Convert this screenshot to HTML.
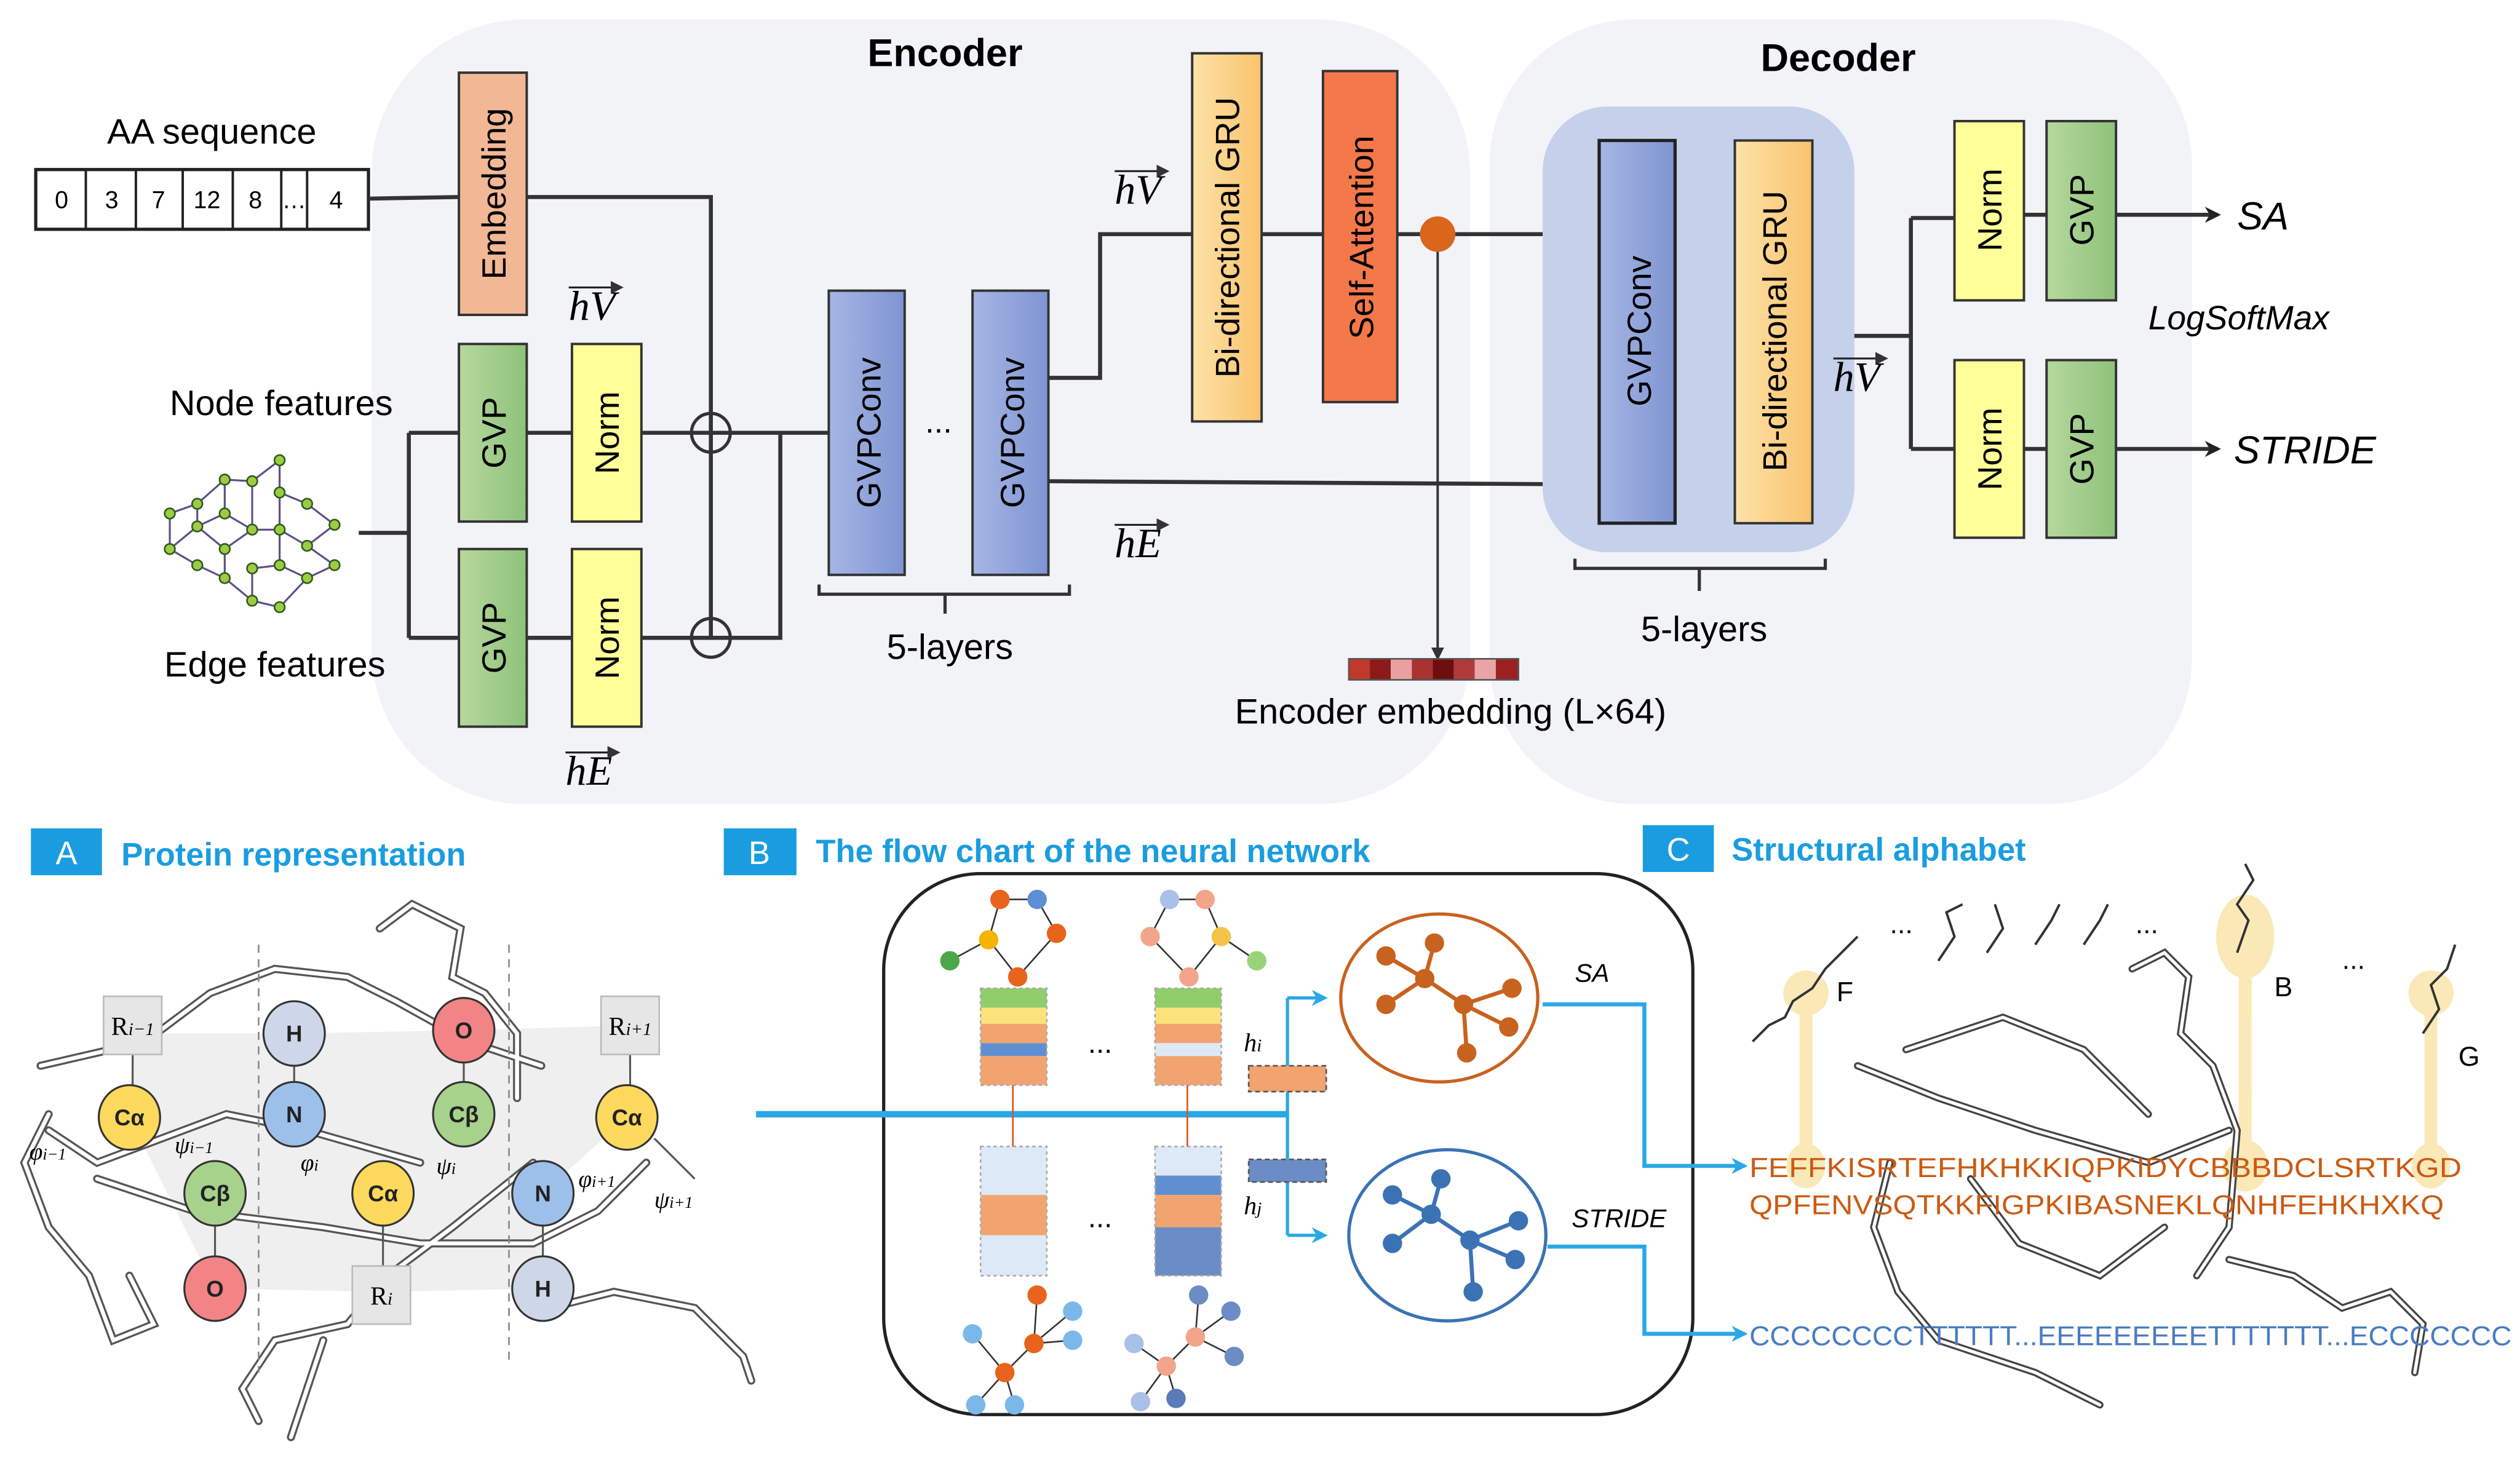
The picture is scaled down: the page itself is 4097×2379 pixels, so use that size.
<!DOCTYPE html>
<html><head><meta charset="utf-8"><style>
html,body{margin:0;padding:0;background:#fff;}
svg{display:block;font-family:"Liberation Sans",sans-serif;}
</style></head><body>
<svg width="4097" height="2379" viewBox="0 0 1560 906" xmlns="http://www.w3.org/2000/svg">
<defs>
<linearGradient id="gb" x1="0" x2="1"><stop offset="0" stop-color="#a6b6e4"/><stop offset="1" stop-color="#7f94d2"/></linearGradient>
<linearGradient id="go" x1="0" x2="1"><stop offset="0" stop-color="#fde2a8"/><stop offset="1" stop-color="#f9c36e"/></linearGradient>
<linearGradient id="gg" x1="0" x2="1"><stop offset="0" stop-color="#b6d89e"/><stop offset="1" stop-color="#8ec27a"/></linearGradient>
<marker id="ar" markerWidth="10" markerHeight="10" refX="8" refY="5" orient="auto" markerUnits="userSpaceOnUse"><path d="M0,0 L10,5 L0,10 L3,5z" fill="#222"/></marker>
<marker id="ab" markerWidth="10" markerHeight="10" refX="8" refY="5" orient="auto" markerUnits="userSpaceOnUse"><path d="M0,0 L10,5 L0,10 L3,5z" fill="#2aa8e6"/></marker>
<marker id="as" markerWidth="8" markerHeight="8" refX="6" refY="4" orient="auto" markerUnits="userSpaceOnUse"><path d="M0,0 L8,4 L0,8z" fill="#333"/></marker>
</defs>

<!-- panels -->
<rect x="230" y="12" width="680" height="486" rx="95" fill="#f2f3f7"/>
<rect x="922" y="12" width="435" height="486" rx="90" fill="#f2f3f7"/>
<text x="585" y="41" font-size="24" font-weight="bold" text-anchor="middle">Encoder</text>
<text x="1138" y="44" font-size="24" font-weight="bold" text-anchor="middle">Decoder</text>

<!-- AA sequence -->
<text x="131" y="89" font-size="22" text-anchor="middle">AA sequence</text>
<rect x="22" y="105" width="206" height="37" fill="#fff" stroke="#222" stroke-width="2"/>
<g stroke="#222" stroke-width="1.5"><line x1="53" y1="105" x2="53" y2="142"/><line x1="84" y1="105" x2="84" y2="142"/><line x1="113" y1="105" x2="113" y2="142"/><line x1="144" y1="105" x2="144" y2="142"/><line x1="174" y1="105" x2="174" y2="142"/><line x1="190" y1="105" x2="190" y2="142"/></g>
<g font-size="15" text-anchor="middle"><text x="38" y="129">0</text><text x="69" y="129">3</text><text x="98" y="129">7</text><text x="128" y="129">12</text><text x="158" y="129">8</text><text x="182" y="129">…</text><text x="208" y="129">4</text></g>

<!-- lines -->
<g stroke="#333" stroke-width="2.5" fill="none">
<path d="M228,123 L284,122"/>
<path d="M326,122 L440,122 L440,395"/>
<path d="M222,330 L253,330 M253,268 L253,395 M253,268 L284,268 M253,395 L284,395"/>
<path d="M326,268 L354,268 M326,395 L354,395 M397,268 L513,268 M397,395 L483,395 L483,268"/>
<path d="M649,234 L681,234 L681,145 L738,145"/>
<path d="M649,298 L990,300"/>
<path d="M781,145 L819,145 M865,145 L990,145"/>
<path d="M1122,208 L1183,208 M1183,135 L1183,278 M1183,135 L1210,135 M1183,278 L1210,278"/>
<path d="M1253,133 L1267,133 M1253,278 L1267,278"/>
</g>
<circle cx="440" cy="268" r="12" fill="none" stroke="#333" stroke-width="2"/>
<circle cx="440" cy="395" r="12" fill="none" stroke="#333" stroke-width="2"/>
<g stroke="#333" stroke-width="2.5"><line x1="1310" y1="133" x2="1373" y2="133" marker-end="url(#ar)"/><line x1="1310" y1="278" x2="1373" y2="278" marker-end="url(#ar)"/>
<line x1="890" y1="150" x2="890" y2="407" stroke-width="1.5" marker-end="url(#as)"/></g>

<!-- encoder boxes -->
<rect x="284" y="45" width="42" height="150" fill="#f2b896" stroke="#333" stroke-width="1.5"/>
<text transform="translate(313,120) rotate(-90)" font-size="21" text-anchor="middle">Embedding</text>
<rect x="284" y="213" width="42" height="110" fill="url(#gg)" stroke="#333" stroke-width="1.5"/>
<text transform="translate(313,268) rotate(-90)" font-size="21" text-anchor="middle">GVP</text>
<rect x="354" y="213" width="43" height="110" fill="#ffff99" stroke="#333" stroke-width="1.5"/>
<text transform="translate(383,268) rotate(-90)" font-size="21" text-anchor="middle">Norm</text>
<rect x="284" y="340" width="42" height="110" fill="url(#gg)" stroke="#333" stroke-width="1.5"/>
<text transform="translate(313,395) rotate(-90)" font-size="21" text-anchor="middle">GVP</text>
<rect x="354" y="340" width="43" height="110" fill="#ffff99" stroke="#333" stroke-width="1.5"/>
<text transform="translate(383,395) rotate(-90)" font-size="21" text-anchor="middle">Norm</text>
<rect x="513" y="180" width="47" height="176" fill="url(#gb)" stroke="#333" stroke-width="1.5"/>
<text transform="translate(545,268) rotate(-90)" font-size="21" text-anchor="middle">GVPConv</text>
<rect x="602" y="180" width="47" height="176" fill="url(#gb)" stroke="#333" stroke-width="1.5"/>
<text transform="translate(634,268) rotate(-90)" font-size="21" text-anchor="middle">GVPConv</text>
<text x="581" y="268" font-size="20" text-anchor="middle">...</text>
<path d="M507,362 L507,368 L662,368 L662,362 M585,368 L585,380" stroke="#333" stroke-width="2" fill="none"/>
<text x="588" y="408" font-size="22" text-anchor="middle">5-layers</text>
<rect x="738" y="33" width="43" height="228" fill="url(#go)" stroke="#333" stroke-width="1.5"/>
<text transform="translate(767,147) rotate(-90)" font-size="21" text-anchor="middle">Bi-directional GRU</text>
<rect x="819" y="44" width="46" height="205" fill="#f4784a" stroke="#333" stroke-width="1.5"/>
<text transform="translate(850,147) rotate(-90)" font-size="21" text-anchor="middle">Self-Attention</text>
<ellipse cx="890" cy="145" rx="11" ry="11" fill="#d9661b"/>
<g>
<rect x="835" y="408" width="13" height="13" fill="#c0392b"/><rect x="848" y="408" width="13" height="13" fill="#8b1a1a"/><rect x="861" y="408" width="13" height="13" fill="#e8a0a0"/><rect x="874" y="408" width="13" height="13" fill="#a93232"/><rect x="887" y="408" width="13" height="13" fill="#6e0f0f"/><rect x="900" y="408" width="13" height="13" fill="#b03a3a"/><rect x="913" y="408" width="13" height="13" fill="#e9a5a5"/><rect x="926" y="408" width="14" height="13" fill="#9c2020"/>
<rect x="835" y="408" width="105" height="13" fill="none" stroke="#555" stroke-width="1"/></g>
<text x="898" y="448" font-size="22" text-anchor="middle">Encoder embedding (L×64)</text>

<text x="174" y="257" font-size="22" text-anchor="middle">Node features</text>
<text x="170" y="419" font-size="22" text-anchor="middle">Edge features</text>

<!-- graph -->
<g stroke="#5a4f8a" stroke-width="1.2" fill="none">
<path d="M173,285 L156,298 L139,297 L122,312 L105,318 L105,340 L122,350 L139,358 L156,372 L173,376 M156,298 L156,328 L139,340 L122,326 L122,312 M173,285 L173,305 L190,312 L207,325 L190,338 L173,328 L156,328 M173,305 L173,328 L173,350 L190,358 L207,350 L190,338 M139,297 L139,318 L156,328 M105,340 L122,326 M139,340 L139,358 M156,352 L173,350 M156,352 L156,372 M173,376 L190,358 M139,318 L122,326"/>
</g>
<g fill="#9ccc45" stroke="#2f5b1a" stroke-width="1">
<circle cx="173" cy="285" r="3.2"/><circle cx="156" cy="298" r="3.2"/><circle cx="139" cy="297" r="3.2"/><circle cx="122" cy="312" r="3.2"/><circle cx="105" cy="318" r="3.2"/><circle cx="105" cy="340" r="3.2"/><circle cx="122" cy="350" r="3.2"/><circle cx="139" cy="358" r="3.2"/><circle cx="156" cy="372" r="3.2"/><circle cx="173" cy="376" r="3.2"/><circle cx="156" cy="328" r="3.2"/><circle cx="139" cy="340" r="3.2"/><circle cx="122" cy="326" r="3.2"/><circle cx="173" cy="305" r="3.2"/><circle cx="190" cy="312" r="3.2"/><circle cx="207" cy="325" r="3.2"/><circle cx="190" cy="338" r="3.2"/><circle cx="173" cy="328" r="3.2"/><circle cx="173" cy="350" r="3.2"/><circle cx="190" cy="358" r="3.2"/><circle cx="207" cy="350" r="3.2"/><circle cx="139" cy="318" r="3.2"/><circle cx="156" cy="352" r="3.2"/>
</g>

<!-- decoder -->
<rect x="955" y="66" width="193" height="276" rx="40" fill="#c5d1ea"/>
<rect x="990" y="87" width="47" height="237" fill="url(#gb)" stroke="#222" stroke-width="2"/>
<text transform="translate(1022,205) rotate(-90)" font-size="21" text-anchor="middle">GVPConv</text>
<rect x="1074" y="87" width="48" height="237" fill="url(#go)" stroke="#333" stroke-width="1.5"/>
<text transform="translate(1106,205) rotate(-90)" font-size="21" text-anchor="middle">Bi-directional GRU</text>
<path d="M975,346 L975,352 L1130,352 L1130,346 M1052,352 L1052,366" stroke="#333" stroke-width="2" fill="none"/>
<text x="1055" y="397" font-size="22" text-anchor="middle">5-layers</text>
<rect x="1210" y="75" width="43" height="111" fill="#ffff99" stroke="#333" stroke-width="1.5"/>
<text transform="translate(1239,130) rotate(-90)" font-size="21" text-anchor="middle">Norm</text>
<rect x="1267" y="75" width="43" height="111" fill="url(#gg)" stroke="#333" stroke-width="1.5"/>
<text transform="translate(1296,130) rotate(-90)" font-size="21" text-anchor="middle">GVP</text>
<rect x="1210" y="223" width="43" height="110" fill="#ffff99" stroke="#333" stroke-width="1.5"/>
<text transform="translate(1239,278) rotate(-90)" font-size="21" text-anchor="middle">Norm</text>
<rect x="1267" y="223" width="43" height="110" fill="url(#gg)" stroke="#333" stroke-width="1.5"/>
<text transform="translate(1296,278) rotate(-90)" font-size="21" text-anchor="middle">GVP</text>
<g font-style="italic"><text x="1385" y="142" font-size="24">SA</text><text x="1383" y="287" font-size="24">STRIDE</text><text x="1330" y="204" font-size="21">LogSoftMax</text></g>

<!-- labels -->
<g font-family="Liberation Serif,serif" font-style="italic" font-size="26">
<text x="352" y="198">hV</text><path d="M352,178 L384,178" stroke="#222" stroke-width="1.2" marker-end="url(#as)"/>
<text x="350" y="486">hE</text><path d="M350,466 L382,466" stroke="#222" stroke-width="1.2" marker-end="url(#as)"/>
<text x="690" y="126">hV</text><path d="M690,106 L722,106" stroke="#222" stroke-width="1.2" marker-end="url(#as)"/>
<text x="690" y="345">hE</text><path d="M690,325 L722,325" stroke="#222" stroke-width="1.2" marker-end="url(#as)"/>
<text x="1135" y="242">hV</text><path d="M1135,222 L1167,222" stroke="#222" stroke-width="1.2" marker-end="url(#as)"/>
</g>

<!-- section headers -->
<rect x="19" y="513" width="44" height="29" fill="#1a9de0"/><text x="41" y="535" font-size="20" fill="#fff" text-anchor="middle">A</text>
<text x="75" y="536" font-size="20" font-weight="bold" fill="#1a9de0">Protein representation</text>
<rect x="448" y="513" width="45" height="29" fill="#1a9de0"/><text x="470" y="535" font-size="20" fill="#fff" text-anchor="middle">B</text>
<text x="505" y="534" font-size="20" font-weight="bold" fill="#1a9de0">The flow chart of the neural network</text>
<rect x="1017" y="511" width="44" height="29" fill="#1a9de0"/><text x="1039" y="533" font-size="20" fill="#fff" text-anchor="middle">C</text>
<text x="1072" y="533" font-size="20" font-weight="bold" fill="#1a9de0">Structural alphabet</text>

<!-- Panel A -->
<polygon points="82,640 182,640 287,638 390,635 388,692 336,739 336,798 237,800 133,798 80,692" fill="#e8e8e8" opacity="0.7"/>
<g fill="none" stroke="#555" stroke-width="5" stroke-linecap="round">
<path d="M235,575 L255,560 L285,575 L280,605 L300,615 L320,640 L320,680"/>
<path d="M25,660 L90,645 L130,615 L170,600 L215,605 L245,620 L290,645 L335,660"/>
<path d="M30,690 L15,720 L30,760 L55,790 L70,830 L95,820 L80,790"/>
<path d="M60,730 L120,750 L200,760 L260,770 L330,770 L370,750 L400,720"/>
<path d="M340,810 L380,800 L430,810 L460,840 L465,855"/>
<path d="M160,880 L150,860 L170,830 L215,820 L240,790 L280,760 L330,720"/>
<path d="M180,890 L190,860 L200,830"/>
<path d="M30,700 L60,720 L140,690 L190,700 L260,720"/>
</g>
<g fill="none" stroke="#fff" stroke-width="2.5" stroke-linecap="round">
<path d="M235,575 L255,560 L285,575 L280,605 L300,615 L320,640 L320,680"/>
<path d="M25,660 L90,645 L130,615 L170,600 L215,605 L245,620 L290,645 L335,660"/>
<path d="M30,690 L15,720 L30,760 L55,790 L70,830 L95,820 L80,790"/>
<path d="M60,730 L120,750 L200,760 L260,770 L330,770 L370,750 L400,720"/>
<path d="M340,810 L380,800 L430,810 L460,840 L465,855"/>
<path d="M160,880 L150,860 L170,830 L215,820 L240,790 L280,760 L330,720"/>
<path d="M180,890 L190,860 L200,830"/>
<path d="M30,700 L60,720 L140,690 L190,700 L260,720"/>
</g>
<g stroke="#888" stroke-width="1" stroke-dasharray="5,4"><line x1="160" y1="585" x2="160" y2="850"/><line x1="315" y1="585" x2="315" y2="845"/></g>
<g stroke="#555" stroke-width="1.2"><line x1="82" y1="650" x2="82" y2="675"/><line x1="390" y1="650" x2="390" y2="675"/><line x1="237" y1="757" x2="237" y2="785"/><line x1="182" y1="657" x2="182" y2="673"/><line x1="287" y1="655" x2="287" y2="673"/><line x1="133" y1="756" x2="133" y2="781"/><line x1="336" y1="756" x2="336" y2="781"/><line x1="405" y1="705" x2="430" y2="730"/></g>
<g font-family="Liberation Serif,serif" font-size="16" text-anchor="middle">
<rect x="64" y="617" width="36" height="36" fill="#e6e6e6" stroke="#bbb"/><text x="82" y="641">R<tspan font-size="11" font-style="italic">i−1</tspan></text>
<rect x="372" y="617" width="36" height="36" fill="#e6e6e6" stroke="#bbb"/><text x="390" y="641">R<tspan font-size="11" font-style="italic">i+1</tspan></text>
<rect x="218" y="784" width="36" height="36" fill="#e6e6e6" stroke="#bbb"/><text x="236" y="808">R<tspan font-size="11" font-style="italic">i</tspan></text>
</g>
<g stroke="#333" stroke-width="1.2">
<ellipse cx="80" cy="692" rx="19" ry="20" fill="#fcd95c"/><ellipse cx="237" cy="739" rx="19" ry="20" fill="#fcd95c"/><ellipse cx="388" cy="692" rx="19" ry="20" fill="#fcd95c"/>
<ellipse cx="182" cy="640" rx="19" ry="20" fill="#cdd7e8"/><ellipse cx="336" cy="798" rx="19" ry="20" fill="#cdd7e8"/>
<ellipse cx="287" cy="638" rx="19" ry="20" fill="#f28486"/><ellipse cx="133" cy="798" rx="19" ry="20" fill="#f28486"/>
<ellipse cx="182" cy="690" rx="19" ry="20" fill="#9dc0ea"/><ellipse cx="336" cy="739" rx="19" ry="20" fill="#9dc0ea"/>
<ellipse cx="287" cy="690" rx="19" ry="20" fill="#a7d28c"/><ellipse cx="133" cy="739" rx="19" ry="20" fill="#a7d28c"/>
</g>
<g font-size="14" font-weight="bold" text-anchor="middle" fill="#222">
<text x="80" y="697">Cα</text><text x="237" y="744">Cα</text><text x="388" y="697">Cα</text>
<text x="182" y="645">H</text><text x="336" y="803">H</text><text x="287" y="643">O</text><text x="133" y="803">O</text>
<text x="182" y="695">N</text><text x="336" y="744">N</text><text x="287" y="695">Cβ</text><text x="133" y="744">Cβ</text>
</g>
<g font-family="Liberation Serif,serif" font-style="italic" font-size="15">
<text x="18" y="718">φ<tspan font-size="10">i−1</tspan></text><text x="108" y="714">ψ<tspan font-size="10">i−1</tspan></text>
<text x="186" y="725">φ<tspan font-size="10">i</tspan></text><text x="270" y="727">ψ<tspan font-size="10">i</tspan></text>
<text x="358" y="735">φ<tspan font-size="10">i+1</tspan></text><text x="405" y="748">ψ<tspan font-size="10">i+1</tspan></text>
</g>

<!-- Panel B -->
<rect x="547" y="541" width="501" height="335" rx="60" fill="#fff" stroke="#222" stroke-width="2"/>
<line x1="468" y1="690" x2="797" y2="690" stroke="#2aa8e6" stroke-width="4"/>
<path d="M797,618 L797,765" stroke="#2aa8e6" stroke-width="2" fill="none"/>
<line x1="797" y1="618" x2="820" y2="618" stroke="#2aa8e6" stroke-width="2" marker-end="url(#ab)"/>
<line x1="797" y1="765" x2="820" y2="765" stroke="#2aa8e6" stroke-width="2" marker-end="url(#ab)"/>
<g stroke="#333" stroke-width="1" fill="none">
<path d="M619,557 L642,557 M619,557 L612,582 L588,595 M612,582 L630,605 L654,578 L642,557"/>
<path d="M724,557 L746,557 M724,557 L712,580 L736,605 L756,580 L746,557 M756,580 L778,595"/>
</g>
<circle cx="619" cy="557" r="6" fill="#e8641c"/><circle cx="642" cy="557" r="6" fill="#5d8fd4"/><circle cx="612" cy="582" r="6" fill="#f5b400"/><circle cx="654" cy="578" r="6" fill="#e8641c"/><circle cx="588" cy="595" r="6" fill="#4aa84a"/><circle cx="630" cy="605" r="6" fill="#e8641c"/>
<circle cx="724" cy="557" r="6" fill="#a9c0e8"/><circle cx="746" cy="557" r="6" fill="#f2a58a"/><circle cx="712" cy="580" r="6" fill="#f2a58a"/><circle cx="756" cy="580" r="6" fill="#f6c34a"/><circle cx="778" cy="595" r="6" fill="#9ad27a"/><circle cx="736" cy="605" r="6" fill="#f2a58a"/>
<g>
<rect x="607" y="612" width="41" height="12" fill="#8fce6b"/><rect x="607" y="624" width="41" height="10" fill="#fbe27a"/><rect x="607" y="634" width="41" height="12" fill="#f2a470"/><rect x="607" y="646" width="41" height="8" fill="#5f8fd0"/><rect x="607" y="654" width="41" height="18" fill="#f2a470"/>
<rect x="715" y="612" width="41" height="12" fill="#8fce6b"/><rect x="715" y="624" width="41" height="10" fill="#fbe27a"/><rect x="715" y="634" width="41" height="12" fill="#f2a470"/><rect x="715" y="646" width="41" height="8" fill="#dde9f6"/><rect x="715" y="654" width="41" height="18" fill="#f2a470"/>
<rect x="607" y="710" width="41" height="30" fill="#dde9f6"/><rect x="607" y="740" width="41" height="25" fill="#f2a470"/><rect x="607" y="765" width="41" height="25" fill="#dde9f6"/>
<rect x="715" y="710" width="41" height="18" fill="#dde9f6"/><rect x="715" y="728" width="41" height="12" fill="#5f8fd0"/><rect x="715" y="740" width="41" height="20" fill="#f2a470"/><rect x="715" y="760" width="41" height="30" fill="#6b8cc4"/>
</g>
<g stroke="#aaa" stroke-width="1" stroke-dasharray="2,2" fill="none"><rect x="607" y="612" width="41" height="60"/><rect x="715" y="612" width="41" height="60"/><rect x="607" y="710" width="41" height="80"/><rect x="715" y="710" width="41" height="80"/></g>
<line x1="627" y1="672" x2="627" y2="710" stroke="#d9541e" stroke-width="1"/><line x1="735" y1="672" x2="735" y2="710" stroke="#d9541e" stroke-width="1"/>
<text x="681" y="652" font-size="18" text-anchor="middle">...</text><text x="681" y="760" font-size="18" text-anchor="middle">...</text>
<rect x="773" y="660" width="48" height="16" fill="#f2a470" stroke="#555" stroke-dasharray="3,2"/>
<rect x="773" y="718" width="48" height="14" fill="#6b8cc4" stroke="#555" stroke-dasharray="3,2"/>
<text x="770" y="651" font-family="Liberation Serif,serif" font-style="italic" font-size="16">h<tspan font-size="11">i</tspan></text>
<text x="770" y="752" font-family="Liberation Serif,serif" font-style="italic" font-size="16">h<tspan font-size="11">j</tspan></text>
<g stroke="#333" stroke-width="1" fill="none"><path d="M642,802 L640,832 L622,850 L602,826 M640,832 L664,812 M640,832 L664,830 M622,850 L604,870 M622,850 L628,870"/>
<path d="M742,802 L740,828 L722,846 L702,832 M740,828 L762,812 M740,828 L764,840 M722,846 L706,868 M722,846 L728,866"/></g>
<circle cx="642" cy="802" r="6" fill="#e8641c"/><circle cx="640" cy="832" r="6" fill="#e8641c"/><circle cx="622" cy="850" r="6" fill="#e8641c"/><circle cx="602" cy="826" r="6" fill="#7ab8ea"/><circle cx="664" cy="812" r="6" fill="#7ab8ea"/><circle cx="664" cy="830" r="6" fill="#7ab8ea"/><circle cx="604" cy="870" r="6" fill="#7ab8ea"/><circle cx="628" cy="870" r="6" fill="#7ab8ea"/>
<circle cx="742" cy="802" r="6" fill="#6b8cc4"/><circle cx="740" cy="828" r="6" fill="#f2a58a"/><circle cx="722" cy="846" r="6" fill="#f2a58a"/><circle cx="702" cy="832" r="6" fill="#a9c0e8"/><circle cx="762" cy="812" r="6" fill="#6b8cc4"/><circle cx="764" cy="840" r="6" fill="#6b8cc4"/><circle cx="706" cy="868" r="6" fill="#a9c0e8"/><circle cx="728" cy="866" r="6" fill="#5a7ab8"/>
<ellipse cx="891" cy="618" rx="61" ry="52" fill="#fff" stroke="#c8621f" stroke-width="2"/>
<g stroke="#c8621f" stroke-width="2.5" fill="none"><path d="M858,592 L882,606 L888,584 M882,606 L906,622 L936,612 M906,622 L934,636 M906,622 L908,652 M882,606 L858,622"/></g>
<g fill="#c8621f"><circle cx="858" cy="592" r="6"/><circle cx="882" cy="606" r="6"/><circle cx="888" cy="584" r="6"/><circle cx="906" cy="622" r="6"/><circle cx="936" cy="612" r="6"/><circle cx="934" cy="636" r="6"/><circle cx="908" cy="652" r="6"/><circle cx="858" cy="622" r="6"/></g>
<ellipse cx="896" cy="765" rx="61" ry="53" fill="#fff" stroke="#3b72b4" stroke-width="2"/>
<g stroke="#3b72b4" stroke-width="2.5" fill="none"><path d="M862,740 L886,752 L892,730 M886,752 L910,768 L940,756 M910,768 L938,780 M910,768 L912,800 M886,752 L862,770"/></g>
<g fill="#3b72b4"><circle cx="862" cy="740" r="6"/><circle cx="886" cy="752" r="6"/><circle cx="892" cy="730" r="6"/><circle cx="910" cy="768" r="6"/><circle cx="940" cy="756" r="6"/><circle cx="938" cy="780" r="6"/><circle cx="912" cy="800" r="6"/><circle cx="862" cy="770" r="6"/></g>
<text x="975" y="608" font-size="16" font-style="italic">SA</text>
<text x="973" y="760" font-size="16" font-style="italic">STRIDE</text>
<path d="M955,622 L1018,622 L1018,722 L1080,722" stroke="#2aa8e6" stroke-width="2.5" fill="none" marker-end="url(#ab)"/>
<path d="M958,772 L1018,772 L1018,826 L1080,826" stroke="#2aa8e6" stroke-width="2.5" fill="none" marker-end="url(#ab)"/>

<!-- Panel C -->
<g fill="#f9e3a6" opacity="0.8">
<rect x="1114" y="610" width="8" height="110"/><rect x="1386" y="580" width="8" height="140"/><rect x="1501" y="615" width="8" height="105"/>
<ellipse cx="1118" cy="615" rx="14" ry="14"/><ellipse cx="1390" cy="580" rx="18" ry="26"/><ellipse cx="1505" cy="615" rx="14" ry="14"/>
<ellipse cx="1118" cy="722" rx="12" ry="14"/><ellipse cx="1390" cy="722" rx="14" ry="16"/><ellipse cx="1505" cy="722" rx="12" ry="14"/>
</g>
<g fill="none" stroke="#444" stroke-width="4.5" stroke-linecap="round">
<path d="M1320,600 L1340,590 L1355,605 L1350,640 L1370,660 L1385,700 L1380,760 L1360,790"/>
<path d="M1150,660 L1200,680 L1260,700 L1330,720 L1380,700"/>
<path d="M1180,650 L1240,630 L1290,650 L1330,690"/>
<path d="M1170,720 L1160,760 L1175,800 L1200,830 L1260,850 L1300,870"/>
<path d="M1380,780 L1420,790 L1450,810 L1480,800 L1500,820 L1495,850"/>
<path d="M1220,730 L1250,770 L1300,790 L1340,760"/>
</g>
<g fill="none" stroke="#fff" stroke-width="2" stroke-linecap="round">
<path d="M1320,600 L1340,590 L1355,605 L1350,640 L1370,660 L1385,700 L1380,760 L1360,790"/>
<path d="M1150,660 L1200,680 L1260,700 L1330,720 L1380,700"/>
<path d="M1180,650 L1240,630 L1290,650 L1330,690"/>
<path d="M1170,720 L1160,760 L1175,800 L1200,830 L1260,850 L1300,870"/>
<path d="M1380,780 L1420,790 L1450,810 L1480,800 L1500,820 L1495,850"/>
<path d="M1220,730 L1250,770 L1300,790 L1340,760"/>
</g>
<g fill="none" stroke="#333" stroke-width="1.5">
<path d="M1085,645 L1095,635 L1105,630 L1110,620 L1122,612 L1130,600 L1140,590 L1150,580"/>
<path d="M1200,595 L1210,580 L1205,565 L1215,560 M1230,590 L1240,575 L1235,560 M1260,585 L1270,570 L1275,560 M1290,585 L1300,570 L1305,560"/>
<path d="M1385,590 L1392,570 L1385,560 L1395,545 L1390,535"/>
<path d="M1500,640 L1510,625 L1505,610 L1515,600 L1520,585"/>
</g>
<g font-size="17"><text x="1137" y="620">F</text><text x="1408" y="617">B</text><text x="1522" y="660">G</text>
<text x="1170" y="578">...</text><text x="1322" y="578">...</text><text x="1450" y="600">...</text></g>
<text x="1083" y="729" font-size="17" fill="#cc5a12" textLength="441" lengthAdjust="spacingAndGlyphs">FEFFKISRTEFHKHKKIQPKIDYCBBBDCLSRTKGD</text>
<text x="1083" y="752" font-size="17" fill="#cc5a12" textLength="430" lengthAdjust="spacingAndGlyphs">QPFENVSQTKKFIGPKIBASNEKLQNHFEHKHXKQ</text>
<text x="1083" y="833" font-size="17" fill="#4a7cc0" textLength="472" lengthAdjust="spacingAndGlyphs">CCCCCCCCTTTTTT...EEEEEEEEETTTTTTT...ECCCCCCC</text>
</svg>
</body></html>
